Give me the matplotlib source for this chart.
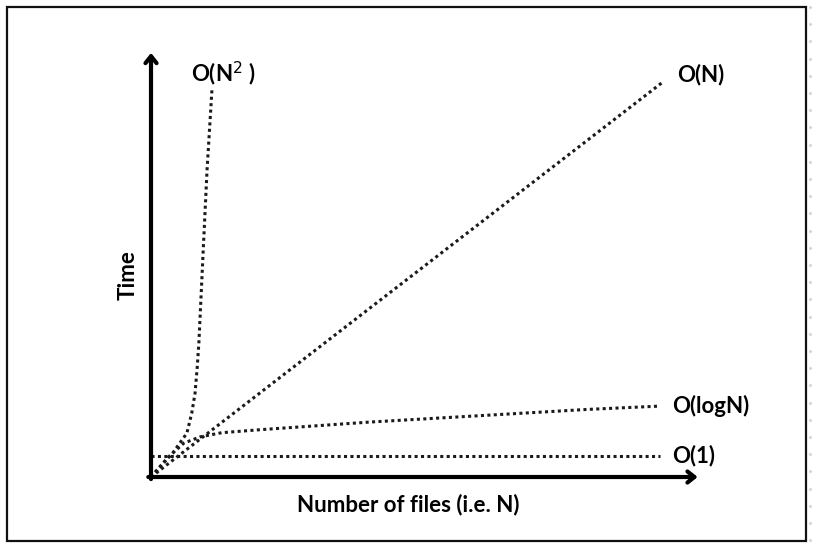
import numpy as np
import matplotlib
matplotlib.use('Agg')
import matplotlib.pyplot as plt
from matplotlib.patches import Rectangle

plt.rcParams['font.family'] = ['Lato', 'DejaVu Sans']

# growth curves, in axis units (x: N, y: time)
const_x = [0, 9.35]
const_y = [0.5, 0.5]

log_x = [0, 0.3, 0.6, 0.9, 1.3, 2, 4, 6, 8, 9.35]
log_y = [0, 0.45, 0.8, 0.95, 1.05, 1.12, 1.3, 1.45, 1.6, 1.68]

lin_x = [0, 9.39]
lin_y = [0, 9.34]

sq_x = [0, 0.40, 0.66, 0.75, 0.81, 0.85, 0.88, 0.96, 1.03, 1.12]
sq_y = [0, 0.57, 1.04, 1.52, 1.99, 2.61, 3.18, 5.38, 7.27, 9.17]

labels = ['O(1)', 'O(logN)', 'O(N)']
label_pos = [(9.58, 0.5), (9.58, 1.68), (9.67, 9.53)]

fig = plt.figure(figsize=(8.17, 5.46), dpi=100)
ax = fig.add_axes([0, 0, 1, 1])
ax.set_xlim(-2.776, 12.243)
ax.set_ylim(-1.635, 11.303)
ax.axis('off')

dot = (0, (1, 1.1))
for xs, ys in [(const_x, const_y), (log_x, log_y), (lin_x, lin_y), (sq_x, sq_y)]:
    ax.plot(xs, ys, color='#1a1a1a', lw=2.2, linestyle=dot, solid_capstyle='butt')

# axes with arrows
arrow = dict(arrowstyle='->,head_length=0.5,head_width=0.4', lw=3, color='black',
             shrinkA=0, shrinkB=0)
ax.annotate('', xy=(0, 10.05), xytext=(0, -0.05), arrowprops=arrow)
ax.annotate('', xy=(10.05, 0), xytext=(-0.05, 0), arrowprops=arrow)

fs = 16
for t, (x, y) in zip(labels, label_pos):
    ax.text(x, y, t, fontsize=fs, fontweight='bold', va='center', ha='left')
ax.text(0.74, 9.55, r'O(N$^{2}$ )', fontsize=fs, fontweight='bold', va='center', ha='left')

ax.text(-0.42, 4.79, 'Time', fontsize=fs, fontweight='bold', rotation=90,
        va='center', ha='center')
ax.text(4.72, -0.66, 'Number of files (i.e. N)', fontsize=fs, fontweight='bold',
        va='center', ha='center')

# outer frame
fig.patches.append(Rectangle((7 / 817, 5 / 546), 799 / 817, 534 / 546,
                             transform=fig.transFigure, fill=False,
                             edgecolor='#111111', lw=1.6))
# faint dots along right edge
dots_y = np.arange(7, 546, 17.2)
fig.add_artist(plt.Line2D(np.full(len(dots_y), 809.5 / 817), 1 - dots_y / 546,
                          transform=fig.transFigure, ls='none', marker='o',
                          ms=2.2, color='#d3d6df', mec='none'))

fig.savefig('out.png', dpi=100)
